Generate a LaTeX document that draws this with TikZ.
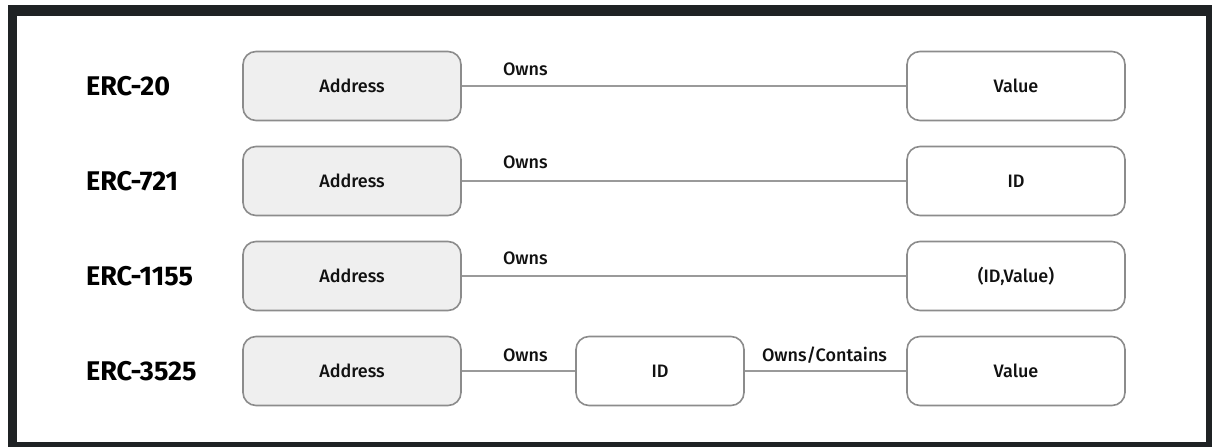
\documentclass[tikz,border=0pt]{standalone}
\usepackage{fontspec}
\setmainfont{Fira Sans}[UprightFont=* Medium, BoldFont=* Bold]
\usepackage{xcolor}
\usepackage{tikz}
\usetikzlibrary{positioning, calc}
\definecolor{ercframe}{HTML}{1F2224}
\definecolor{ercedge}{HTML}{8C8C8C}
\definecolor{ercfill}{HTML}{EFEFEF}
\definecolor{ercline}{HTML}{9A9A9A}
\definecolor{erctext}{HTML}{111111}
\tikzset{
  addrnode/.style={draw=ercedge, fill=ercfill, line width=1.6pt, rounded corners=13pt, minimum height=69pt, minimum width=218pt, align=center, text=erctext, font=\fontsize{18}{20}\selectfont},
  itemnode/.style={draw=ercedge, fill=white, line width=1.6pt, rounded corners=13pt, minimum height=69pt, minimum width=218pt, align=center, text=erctext, font=\fontsize{18}{20}\selectfont},
  stdlabel/.style={anchor=west, inner sep=0pt, text=black, font=\fontsize{27}{30}\selectfont\bfseries},
  ownline/.style={draw=ercline, line width=2pt},
  ownlabel/.style={anchor=west, inner sep=0pt, text=erctext, font=\fontsize{18}{20}\selectfont}
}

\begin{document}
\begin{tikzpicture}[x=1pt, y=-1pt]
  \useasboundingbox (0,0) rectangle (1212,447);
  % dark frame round the white sheet
  \fill[ercframe] (8,5) rectangle (1212,447);
  \fill[white] (17,16) rectangle (1206,442);

  % ERC-20
  \node[stdlabel] at (86,86) (erc20) {ERC-20};
  \node[addrnode] at (352,86) (addr20) {Address};
  \node[itemnode] at (1016,86) (val20) {Value};
  \draw[ownline] (addr20.east) -- (val20.west);
  \node[ownlabel] at ([xshift=41pt, yshift=17pt]addr20.east) (own20) {Owns};

  % ERC-721
  \node[stdlabel] at (86,181) (erc721) {ERC-721};
  \node[addrnode] at (352,181) (addr721) {Address};
  \node[itemnode] at (1016,181) (id721) {ID};
  \draw[ownline] (addr721.east) -- (id721.west);
  \node[ownlabel] at ([xshift=41pt, yshift=19pt]addr721.east) (own721) {Owns};

  % ERC-1155
  \node[stdlabel] at (86,276) (erc1155) {ERC-1155};
  \node[addrnode] at (352,276) (addr1155) {Address};
  \node[itemnode] at (1016,276) (pair1155) {(ID,Value)};
  \draw[ownline] (addr1155.east) -- (pair1155.west);
  \node[ownlabel] at ([xshift=41pt, yshift=18pt]addr1155.east) (own1155) {Owns};

  % ERC-3525
  \node[stdlabel] at (86,371) (erc3525) {ERC-3525};
  \node[addrnode] at (352,371) (addr3525) {Address};
  \node[itemnode, minimum width=168pt] at (660,371) (id3525) {ID};
  \node[itemnode] at (1016,371) (val3525) {Value};
  \draw[ownline] (addr3525.east) -- (id3525.west);
  \draw[ownline] (id3525.east) -- (val3525.west);
  \node[ownlabel] at ([xshift=41pt, yshift=16pt]addr3525.east) (own3525) {Owns};
  \node[ownlabel] at ([xshift=17pt, yshift=16pt]id3525.east) (contain3525) {Owns/Contains};
\end{tikzpicture}
\end{document}
